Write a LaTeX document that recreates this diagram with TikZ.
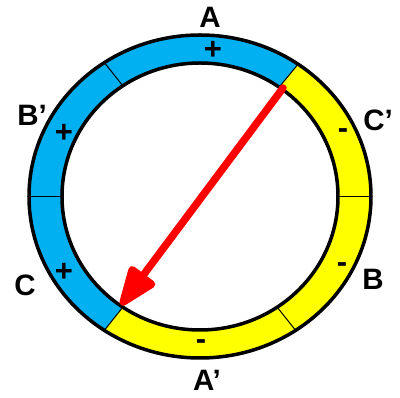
\documentclass[tikz,border=0pt]{standalone}
\usepackage{fontspec}
\setmainfont{Liberation Sans}
\usetikzlibrary{arrows.meta,calc}
\definecolor{ringblue}{RGB}{0,176,240}
\definecolor{ringyellow}{RGB}{255,255,0}
\tikzset{
  lbl/.style={font=\bfseries\fontsize{29.5}{31}\selectfont, inner sep=0pt},
  sgn/.style={font=\bfseries\fontsize{31}{33}\selectfont, inner sep=0pt},
  divider/.style={line width=1pt, draw=black},
  rim/.style={line width=3.5pt, draw=black},
}
\begin{document}
\begin{tikzpicture}[x=1pt,y=1pt]
\useasboundingbox (0,0) rectangle (400,398);
\coordinate (c) at (200,201.5);
% sectors
\fill[ringblue] ($(c)+(55:171pt and 161.5pt)$) arc[start angle=55,end angle=236,x radius=171pt,y radius=161.5pt]
  -- ($(c)+(236:138pt and 133.5pt)$) arc[start angle=236,end angle=55,x radius=138pt,y radius=133.5pt] -- cycle;
\fill[ringyellow] ($(c)+(236:171pt and 161.5pt)$) arc[start angle=236,end angle=415,x radius=171pt,y radius=161.5pt]
  -- ($(c)+(415:138pt and 133.5pt)$) arc[start angle=415,end angle=236,x radius=138pt,y radius=133.5pt] -- cycle;
% dividers
\foreach \a in {0,55,124,180,236,304}{
  \draw[divider] ($(c)+(\a:138pt and 133.5pt)$) -- ($(c)+(\a:171pt and 161.5pt)$);
}
% rims
\draw[rim] (c) ellipse[x radius=171pt,y radius=161.5pt];
\draw[rim] (c) ellipse[x radius=138pt,y radius=133.5pt];
% arrow
\coordinate (s) at (283,310);
\coordinate (t) at (121,93);
\draw[red, line width=7.5pt, line cap=round, -{Triangle[length=46pt,width=33pt,round=false]}] (s) -- (t);
% labels
\node[lbl] (A) at (210,381) {A};
\node[lbl] (Bp) at (32,283) {B’};
\node[lbl] (C) at (25,113) {C};
\node[lbl] (Cp) at (378,278) {C’};
\node[lbl] (B) at (373,119) {B};
\node[lbl] (Ap) at (207,18) {A’};
\node[sgn] (pA) at (213,348) {+};
\node[sgn] (pB) at (64,265) {+};
\node[sgn] (pC) at (64,126) {+};
\node[sgn] (mC) at (343,264) {-};
\node[sgn] (mB) at (342,130) {-};
\node[sgn] (mA) at (201,53) {-};
\end{tikzpicture}
\end{document}
